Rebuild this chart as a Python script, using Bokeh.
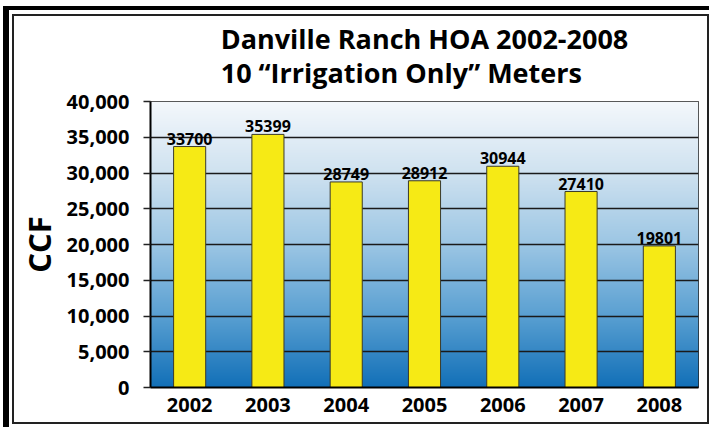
import numpy as np
from bokeh.plotting import figure
from bokeh.models import (FactorRange, Range1d, FixedTicker, NumeralTickFormatter,
                          Title, ColumnDataSource, LabelSet)
from bokeh.core.properties import value
from bokeh.embed import file_html
from bokeh.resources import INLINE

# ---- data ----
years = ["2002", "2003", "2004", "2005", "2006", "2007", "2008"]
ccf = [33700, 35399, 28749, 28912, 30944, 27410, 19801]
y_ticks = [0, 5000, 10000, 15000, 20000, 25000, 30000, 35000, 40000]
title_line1 = "Danville Ranch HOA 2002-2008"
title_line2 = "10 \u201cIrrigation Only\u201d Meters"
y_label = "CCF"

FONT = "Open Sans"

p = figure(x_range=FactorRange(factors=years, range_padding=0),
           y_range=Range1d(y_ticks[0], y_ticks[-1]),
           width=709, height=427, output_backend="svg", toolbar_location=None,
           title=None,
           min_border_left=150, min_border_right=11, min_border_top=101, min_border_bottom=40,
           background_fill_color="white", border_fill_color=None)

# page frame drawn as inset shadows: thick black L at top-left, thin dark box
p.styles = {"box-shadow": ("inset 3px 6px 0 0 white, inset 9px 10px 0 0 black, "
                           "inset 0 -3px 0 0 white, inset 12px 14px 0 0 white, "
                           "inset 14px 16px 0 0 #222, inset -2px -5px 0 0 #222")}

# gradient background (white top -> blue bottom)
stops_t = [0.0, 0.25, 0.5, 0.75, 1.0]
stops_c = [(18, 112, 184), (90, 160, 210), (156, 198, 228), (207, 226, 240), (244, 248, 252)]
n = 286
t = np.linspace(0, 1, n)
img = np.zeros((n, 1), dtype=np.uint32)
view = img.view(dtype=np.uint8).reshape((n, 1, 4))
for k in range(3):
    view[:, 0, k] = np.interp(t, stops_t, [c[k] for c in stops_c]).astype(np.uint8)
view[:, 0, 3] = 255
p.image_rgba(image=[img], x=0, y=y_ticks[0], dw=len(years), dh=y_ticks[-1], level="image")

src = ColumnDataSource(dict(year=years, ccf=ccf, label=[str(v) for v in ccf]))
p.vbar(x="year", top="ccf", width=0.41, source=src,
       fill_color="#f6ea15", line_color="#3a3a2a", line_width=1)

labels = LabelSet(x="year", y="ccf", text="label", source=src, y_offset=2,
                  text_align="center", text_baseline="bottom",
                  text_font=value(FONT), text_font_size="16px", text_font_style="bold",
                  text_color="black")
p.add_layout(labels)

# two-line title
p.add_layout(Title(text=title_line1 + "\n" + title_line2, align="center", offset=3,
                   text_font=FONT, text_font_size="27px", text_line_height=0.93,
                   text_font_style="bold", text_color="black", standoff=21), "above")

# grid / outline
p.xgrid.grid_line_color = None
p.ygrid.ticker = FixedTicker(ticks=y_ticks)
p.ygrid.grid_line_color = "#1a1a1a"
p.ygrid.grid_line_width = 1.5
p.outline_line_color = "#222222"
p.outline_line_width = 1

# y axis
p.yaxis.ticker = FixedTicker(ticks=y_ticks)
p.yaxis.formatter = NumeralTickFormatter(format="0,0")
p.yaxis.axis_line_color = "black"
p.yaxis.axis_line_width = 2
p.yaxis.major_tick_in = 0
p.yaxis.major_tick_out = 7
p.yaxis.major_tick_line_color = "#222222"
p.yaxis.major_tick_line_width = 1.5
p.yaxis.minor_tick_line_color = None
p.yaxis.major_label_standoff = 14
p.yaxis.major_label_text_font = FONT
p.yaxis.major_label_text_font_size = "20px"
p.yaxis.major_label_text_font_style = "bold"
p.yaxis.major_label_text_color = "black"
p.yaxis.axis_label = y_label
p.yaxis.axis_label_text_font = FONT
p.yaxis.axis_label_text_font_size = "31px"
p.yaxis.axis_label_text_font_style = "bold"
p.yaxis.axis_label_text_color = "black"
p.yaxis.axis_label_standoff = 4

# x axis
p.xaxis.axis_line_color = "black"
p.xaxis.axis_line_width = 2
p.xaxis.major_tick_line_color = None
p.xaxis.minor_tick_line_color = None
p.xaxis.major_label_standoff = 4
p.xaxis.major_label_text_font = FONT
p.xaxis.major_label_text_font_size = "20px"
p.xaxis.major_label_text_font_style = "bold"
p.xaxis.major_label_text_color = "black"

open("out.html", "w").write(file_html(p, INLINE))
